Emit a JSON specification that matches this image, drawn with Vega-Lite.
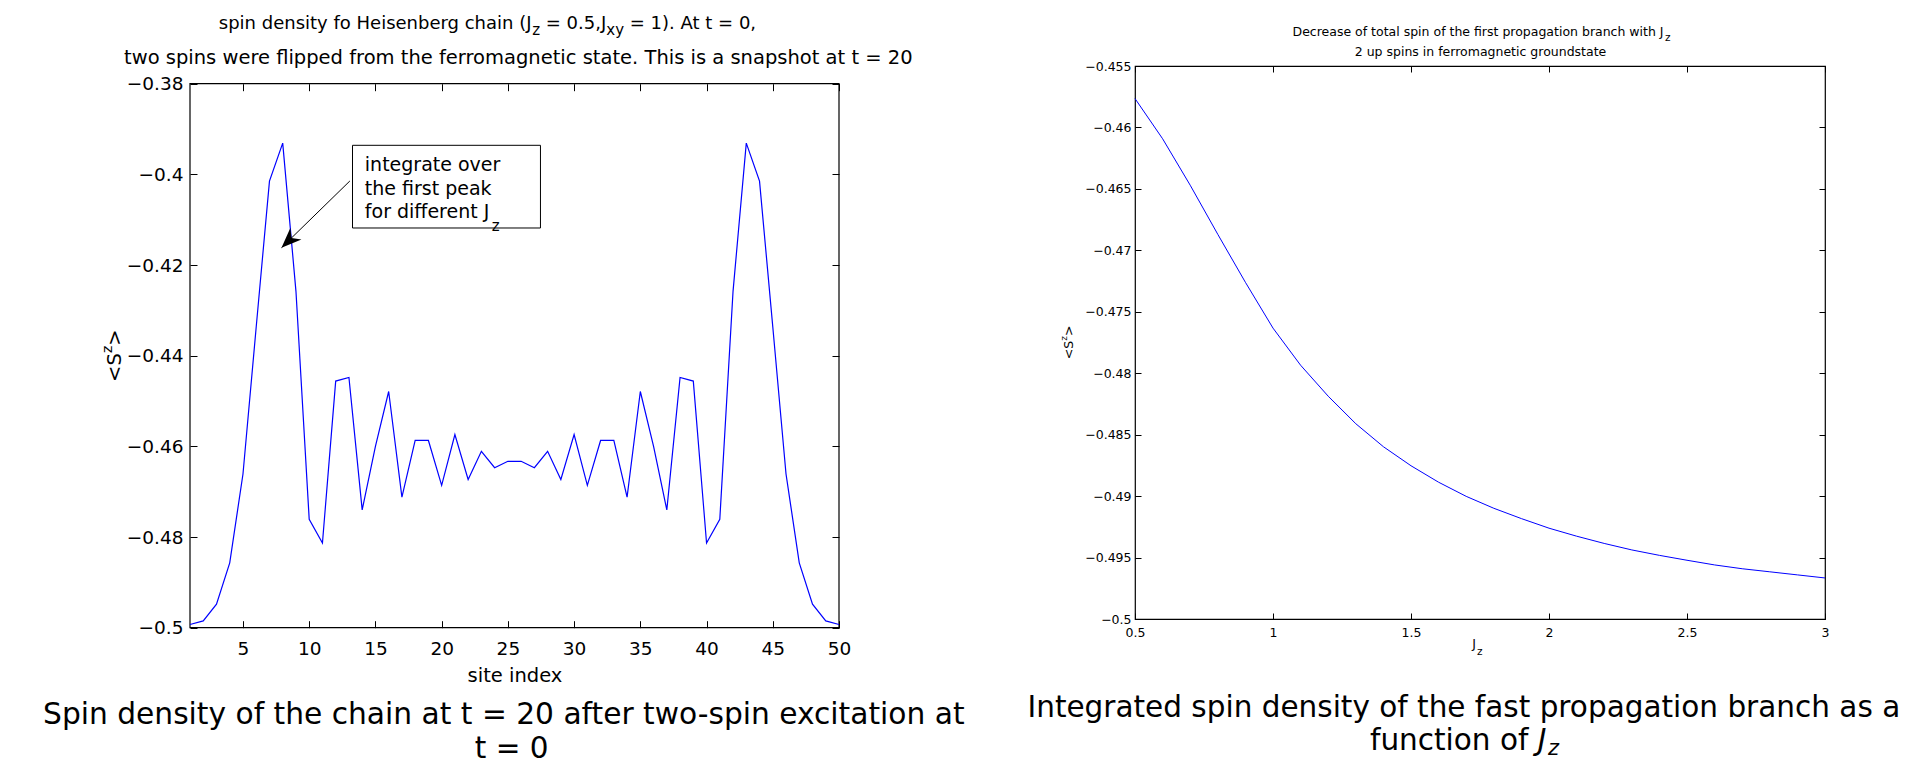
{
  "$schema": "https://vega.github.io/schema/vega-lite/v6.json",
  "padding": 0,
  "background": "white",
  "datasets": {
    "chain": [
      {"site": 1, "sz": -0.4993}, {"site": 2, "sz": -0.4985}, {"site": 3, "sz": -0.4948}, {"site": 4, "sz": -0.4857},
      {"site": 5, "sz": -0.4661}, {"site": 6, "sz": -0.4336}, {"site": 7, "sz": -0.4015}, {"site": 8, "sz": -0.3931},
      {"site": 9, "sz": -0.4258}, {"site": 10, "sz": -0.4761}, {"site": 11, "sz": -0.4813}, {"site": 12, "sz": -0.4456},
      {"site": 13, "sz": -0.4448}, {"site": 14, "sz": -0.474}, {"site": 15, "sz": -0.46}, {"site": 16, "sz": -0.4479},
      {"site": 17, "sz": -0.4712}, {"site": 18, "sz": -0.4587}, {"site": 19, "sz": -0.4587}, {"site": 20, "sz": -0.4686},
      {"site": 21, "sz": -0.4574}, {"site": 22, "sz": -0.4673}, {"site": 23, "sz": -0.4611}, {"site": 24, "sz": -0.4647},
      {"site": 25, "sz": -0.4633}, {"site": 26, "sz": -0.4633}, {"site": 27, "sz": -0.4647}, {"site": 28, "sz": -0.4611},
      {"site": 29, "sz": -0.4673}, {"site": 30, "sz": -0.4574}, {"site": 31, "sz": -0.4686}, {"site": 32, "sz": -0.4587},
      {"site": 33, "sz": -0.4587}, {"site": 34, "sz": -0.4712}, {"site": 35, "sz": -0.4479}, {"site": 36, "sz": -0.46},
      {"site": 37, "sz": -0.474}, {"site": 38, "sz": -0.4448}, {"site": 39, "sz": -0.4456}, {"site": 40, "sz": -0.4813},
      {"site": 41, "sz": -0.4761}, {"site": 42, "sz": -0.4258}, {"site": 43, "sz": -0.3931}, {"site": 44, "sz": -0.4015},
      {"site": 45, "sz": -0.4336}, {"site": 46, "sz": -0.4661}, {"site": 47, "sz": -0.4857}, {"site": 48, "sz": -0.4948},
      {"site": 49, "sz": -0.4985}, {"site": 50, "sz": -0.4993}
    ],
    "jz": [
      {"J": 0.5, "S": -0.45765}, {"J": 0.6, "S": -0.46092}, {"J": 0.7, "S": -0.4647}, {"J": 0.8, "S": -0.4687},
      {"J": 0.9, "S": -0.4726}, {"J": 1.0, "S": -0.47633}, {"J": 1.1, "S": -0.47935}, {"J": 1.2, "S": -0.48187},
      {"J": 1.3, "S": -0.48411}, {"J": 1.4, "S": -0.48598}, {"J": 1.5, "S": -0.48753}, {"J": 1.6, "S": -0.48887},
      {"J": 1.7, "S": -0.49002}, {"J": 1.8, "S": -0.49099}, {"J": 1.9, "S": -0.49183}, {"J": 2.0, "S": -0.49261},
      {"J": 2.1, "S": -0.49326}, {"J": 2.2, "S": -0.49385}, {"J": 2.3, "S": -0.49438}, {"J": 2.4, "S": -0.49482},
      {"J": 2.5, "S": -0.49522}, {"J": 2.6, "S": -0.4956}, {"J": 2.7, "S": -0.49591}, {"J": 2.8, "S": -0.49616},
      {"J": 2.9, "S": -0.49641}, {"J": 3.0, "S": -0.49666}
    ]
  },
  "bounds": "full",
  "align": "none",
  "columns": 2,
  "spacing": 9,
  "concat": [
    {
      "width": 649,
      "height": 561.7,
      "view": {"stroke": null},
      "layer": [
        {
          "data": {"values": [{}]},
          "mark": {"type": "rect", "filled": false, "color": "black", "stroke": "black", "strokeWidth": 1.2},
          "encoding": {
            "x": {"datum": 1, "type": "quantitative", "scale": {"domain": [1, 50], "nice": false, "zero": false}, "axis": null},
            "x2": {"datum": 50},
            "y": {"datum": -0.5, "type": "quantitative", "scale": {"domain": [-0.5, -0.376096], "nice": false, "zero": false}, "axis": null},
            "y2": {"datum": -0.38}
          }
        },
        {
          "data": {"name": "chain"},
          "mark": {"type": "line", "color": "#0000ff", "strokeWidth": 1.2},
          "encoding": {
            "x": {"field": "site", "type": "quantitative", "scale": {"domain": [1, 50], "nice": false, "zero": false},
              "axis": {"orient": "bottom", "values": [5, 10, 15, 20, 25, 30, 35, 40, 45, 50], "format": "d", "tickSize": -7, "labelPadding": 19, "labelFontSize": 18.5, "title": "site index", "titleFontSize": 19.5, "titlePadding": 8}},
            "y": {"field": "sz", "type": "quantitative", "scale": {"domain": [-0.5, -0.376096], "nice": false, "zero": false},
              "axis": {"orient": "left", "values": [-0.5, -0.48, -0.46, -0.44, -0.42, -0.4, -0.38], "format": ".2~f", "tickSize": -7, "labelPadding": 14, "labelFontSize": 18.5, "title": null}}
          }
        },
        {
          "data": {"name": "chain"},
          "mark": {"type": "line", "strokeOpacity": 0},
          "encoding": {
            "x": {"field": "site", "type": "quantitative", "scale": {"domain": [1, 50], "nice": false, "zero": false},
              "axis": {"orient": "top", "offset": -17.7, "values": [5, 10, 15, 20, 25, 30, 35, 40, 45, 50], "labels": false, "tickSize": -7, "title": null}},
            "y": {"field": "sz", "type": "quantitative", "scale": {"domain": [-0.5, -0.376096], "nice": false, "zero": false},
              "axis": {"orient": "right", "values": [-0.5, -0.48, -0.46, -0.44, -0.42, -0.4, -0.38], "labels": false, "tickSize": -7, "title": null}}
          }
        },
        {
          "data": {"values": [{}]},
          "mark": {"type": "text", "text": "<S", "angle": 270, "align": "left", "baseline": "middle", "fontSize": 19.5, "dx": -26.2},
          "encoding": {
            "x": {"datum": -4.64, "type": "quantitative", "scale": {"domain": [1, 50], "nice": false, "zero": false}, "axis": null},
            "y": {"datum": -0.44, "type": "quantitative", "scale": {"domain": [-0.5, -0.376096], "nice": false, "zero": false}, "axis": null}
          }
        },
        {
          "data": {"values": [{}]},
          "mark": {"type": "text", "text": "z", "angle": 270, "align": "left", "baseline": "middle", "fontSize": 14, "dx": 2.6, "dy": -7},
          "encoding": {
            "x": {"datum": -4.64, "type": "quantitative", "scale": {"domain": [1, 50], "nice": false, "zero": false}, "axis": null},
            "y": {"datum": -0.44, "type": "quantitative", "scale": {"domain": [-0.5, -0.376096], "nice": false, "zero": false}, "axis": null}
          }
        },
        {
          "data": {"values": [{}]},
          "mark": {"type": "text", "text": ">", "angle": 270, "align": "left", "baseline": "middle", "fontSize": 19.5, "dx": 10.0},
          "encoding": {
            "x": {"datum": -4.64, "type": "quantitative", "scale": {"domain": [1, 50], "nice": false, "zero": false}, "axis": null},
            "y": {"datum": -0.44, "type": "quantitative", "scale": {"domain": [-0.5, -0.376096], "nice": false, "zero": false}, "axis": null}
          }
        },
        {
          "data": {"values": [{}]},
          "mark": {"type": "rect", "fill": "white", "stroke": "black", "strokeWidth": 1},
          "encoding": {
            "x": {"datum": 13.27, "type": "quantitative", "scale": {"domain": [1, 50], "nice": false, "zero": false}, "axis": null},
            "x2": {"datum": 27.46},
            "y": {"datum": -0.39359, "type": "quantitative", "scale": {"domain": [-0.5, -0.376096], "nice": false, "zero": false}, "axis": null},
            "y2": {"datum": -0.41183}
          }
        },
        {
          "data": {"values": [{}]},
          "mark": {"type": "text", "text": ["integrate over", "the first peak", "for different J"], "align": "left", "baseline": "alphabetic", "fontSize": 19, "lineHeight": 23.7},
          "encoding": {
            "x": {"datum": 14.2, "type": "quantitative", "scale": {"domain": [1, 50], "nice": false, "zero": false}, "axis": null},
            "y": {"datum": -0.399257, "type": "quantitative", "scale": {"domain": [-0.5, -0.376096], "nice": false, "zero": false}, "axis": null}
          }
        },
        {
          "data": {"values": [{}]},
          "mark": {"type": "text", "text": "z", "align": "left", "baseline": "alphabetic", "fontSize": 15},
          "encoding": {
            "x": {"datum": 23.786, "type": "quantitative", "scale": {"domain": [1, 50], "nice": false, "zero": false}, "axis": null},
            "y": {"datum": -0.412493, "type": "quantitative", "scale": {"domain": [-0.5, -0.376096], "nice": false, "zero": false}, "axis": null}
          }
        },
        {
          "data": {"values": [{}]},
          "mark": {"type": "rule", "color": "black", "strokeWidth": 1},
          "encoding": {
            "x": {"datum": 13.07, "type": "quantitative", "scale": {"domain": [1, 50], "nice": false, "zero": false}, "axis": null},
            "x2": {"datum": 7.908},
            "y": {"datum": -0.40146, "type": "quantitative", "scale": {"domain": [-0.5, -0.376096], "nice": false, "zero": false}, "axis": null},
            "y2": {"datum": -0.41618}
          }
        },
        {
          "data": {"values": [{}]},
          "mark": {"type": "point", "shape": "M0,0L0.4,1L0,0.7L-0.4,1Z", "filled": true, "color": "black", "opacity": 1, "strokeWidth": 0, "size": 1600, "angle": 226},
          "encoding": {
            "x": {"datum": 7.908, "type": "quantitative", "scale": {"domain": [1, 50], "nice": false, "zero": false}, "axis": null},
            "y": {"datum": -0.41618, "type": "quantitative", "scale": {"domain": [-0.5, -0.376096], "nice": false, "zero": false}, "axis": null}
          }
        },
        {
          "data": {"values": [{}]},
          "mark": {"type": "text", "text": "spin density fo Heisenberg chain (J", "align": "left", "baseline": "alphabetic", "fontSize": 18},
          "encoding": {
            "x": {"datum": 3.1744, "type": "quantitative", "scale": {"domain": [1, 50], "nice": false, "zero": false}, "axis": null},
            "y": {"datum": -0.368044, "type": "quantitative", "scale": {"domain": [-0.5, -0.376096], "nice": false, "zero": false}, "axis": null}
          }
        },
        {
          "data": {"values": [{}]},
          "mark": {"type": "text", "text": "z", "align": "left", "baseline": "alphabetic", "fontSize": 15, "dx": 313.4, "dy": 5.5},
          "encoding": {
            "x": {"datum": 3.1744, "type": "quantitative", "scale": {"domain": [1, 50], "nice": false, "zero": false}, "axis": null},
            "y": {"datum": -0.368044, "type": "quantitative", "scale": {"domain": [-0.5, -0.376096], "nice": false, "zero": false}, "axis": null}
          }
        },
        {
          "data": {"values": [{}]},
          "mark": {"type": "text", "text": "= 0.5,J", "align": "left", "baseline": "alphabetic", "fontSize": 18, "dx": 327.0},
          "encoding": {
            "x": {"datum": 3.1744, "type": "quantitative", "scale": {"domain": [1, 50], "nice": false, "zero": false}, "axis": null},
            "y": {"datum": -0.368044, "type": "quantitative", "scale": {"domain": [-0.5, -0.376096], "nice": false, "zero": false}, "axis": null}
          }
        },
        {
          "data": {"values": [{}]},
          "mark": {"type": "text", "text": "xy", "align": "left", "baseline": "alphabetic", "fontSize": 15, "dx": 387.5, "dy": 5.5},
          "encoding": {
            "x": {"datum": 3.1744, "type": "quantitative", "scale": {"domain": [1, 50], "nice": false, "zero": false}, "axis": null},
            "y": {"datum": -0.368044, "type": "quantitative", "scale": {"domain": [-0.5, -0.376096], "nice": false, "zero": false}, "axis": null}
          }
        },
        {
          "data": {"values": [{}]},
          "mark": {"type": "text", "text": "= 1). At t = 0,", "align": "left", "baseline": "alphabetic", "fontSize": 18, "dx": 411.0},
          "encoding": {
            "x": {"datum": 3.1744, "type": "quantitative", "scale": {"domain": [1, 50], "nice": false, "zero": false}, "axis": null},
            "y": {"datum": -0.368044, "type": "quantitative", "scale": {"domain": [-0.5, -0.376096], "nice": false, "zero": false}, "axis": null}
          }
        },
        {
          "data": {"values": [{}]},
          "mark": {"type": "text", "text": "two spins were flipped from the ferromagnetic state. This is a snapshot at t = 20", "align": "center", "baseline": "alphabetic", "fontSize": 19.5},
          "encoding": {
            "x": {"datum": 25.787, "type": "quantitative", "scale": {"domain": [1, 50], "nice": false, "zero": false}, "axis": null},
            "y": {"datum": -0.375654, "type": "quantitative", "scale": {"domain": [-0.5, -0.376096], "nice": false, "zero": false}, "axis": null}
          }
        },
        {
          "data": {"values": [{}]},
          "mark": {"type": "text", "text": "Spin density of the chain at t = 20 after two-spin excitation at", "align": "center", "baseline": "alphabetic", "fontSize": 29.7},
          "encoding": {
            "x": {"datum": 24.692, "type": "quantitative", "scale": {"domain": [1, 50], "nice": false, "zero": false}, "axis": null},
            "y": {"datum": -0.521243, "type": "quantitative", "scale": {"domain": [-0.5, -0.376096], "nice": false, "zero": false}, "axis": null}
          }
        },
        {
          "data": {"values": [{}]},
          "mark": {"type": "text", "text": "t = 0", "align": "center", "baseline": "alphabetic", "fontSize": 29.5},
          "encoding": {
            "x": {"datum": 25.29, "type": "quantitative", "scale": {"domain": [1, 50], "nice": false, "zero": false}, "axis": null},
            "y": {"datum": -0.528743, "type": "quantitative", "scale": {"domain": [-0.5, -0.376096], "nice": false, "zero": false}, "axis": null}
          }
        },
        {
          "data": {"values": [{}]},
          "mark": {"type": "point", "filled": true, "opacity": 0, "strokeWidth": 0, "size": 1},
          "encoding": {
            "x": {"datum": -13.2846, "type": "quantitative", "scale": {"domain": [1, 50], "nice": false, "zero": false}, "axis": null},
            "y": {"datum": -0.361978, "type": "quantitative", "scale": {"domain": [-0.5, -0.376096], "nice": false, "zero": false}, "axis": null}
          }
        },
        {
          "data": {"values": [{}]},
          "mark": {"type": "point", "filled": true, "opacity": 0, "strokeWidth": 0, "size": 1},
          "encoding": {
            "x": {"datum": 62.14, "type": "quantitative", "scale": {"domain": [1, 50], "nice": false, "zero": false}, "axis": null},
            "y": {"datum": -0.361978, "type": "quantitative", "scale": {"domain": [-0.5, -0.376096], "nice": false, "zero": false}, "axis": null}
          }
        }
      ],
      "resolve": {"axis": {"x": "independent", "y": "independent"}}
    },
    {
      "width": 690,
      "height": 553,
      "layer": [
        {
          "data": {"name": "jz"},
          "mark": {"type": "line", "color": "#0000ff", "strokeWidth": 1},
          "encoding": {
            "x": {"field": "J", "type": "quantitative", "scale": {"domain": [0.5, 3], "nice": false, "zero": false},
              "axis": {"orient": "bottom", "values": [0.5, 1, 1.5, 2, 2.5, 3], "format": "~g", "tickSize": -6, "labelPadding": 13, "labelFontSize": 12.5, "title": null}},
            "y": {"field": "S", "type": "quantitative", "scale": {"domain": [-0.5, -0.455], "nice": false, "zero": false},
              "axis": {"orient": "left", "values": [-0.5, -0.495, -0.49, -0.485, -0.48, -0.475, -0.47, -0.465, -0.46, -0.455], "format": ".3~f", "tickSize": -6, "labelPadding": 10, "labelFontSize": 12.5, "title": null}}
          }
        },
        {
          "data": {"name": "jz"},
          "mark": {"type": "line", "strokeOpacity": 0},
          "encoding": {
            "x": {"field": "J", "type": "quantitative", "scale": {"domain": [0.5, 3], "nice": false, "zero": false},
              "axis": {"orient": "top", "values": [0.5, 1, 1.5, 2, 2.5, 3], "labels": false, "tickSize": -6, "title": null}},
            "y": {"field": "S", "type": "quantitative", "scale": {"domain": [-0.5, -0.455], "nice": false, "zero": false},
              "axis": {"orient": "right", "values": [-0.5, -0.495, -0.49, -0.485, -0.48, -0.475, -0.47, -0.465, -0.46, -0.455], "labels": false, "tickSize": -6, "title": null}}
          }
        },
        {
          "data": {"values": [{}]},
          "mark": {"type": "text", "text": "<S", "angle": 270, "align": "left", "baseline": "middle", "fontSize": 12.5, "dx": -16.8},
          "encoding": {
            "x": {"datum": 0.25906, "type": "quantitative", "scale": {"domain": [0.5, 3], "nice": false, "zero": false}, "axis": null},
            "y": {"datum": -0.4775, "type": "quantitative", "scale": {"domain": [-0.5, -0.455], "nice": false, "zero": false}, "axis": null}
          }
        },
        {
          "data": {"values": [{}]},
          "mark": {"type": "text", "text": "z", "angle": 270, "align": "left", "baseline": "middle", "fontSize": 9, "dx": 1.7, "dy": -4.5},
          "encoding": {
            "x": {"datum": 0.25906, "type": "quantitative", "scale": {"domain": [0.5, 3], "nice": false, "zero": false}, "axis": null},
            "y": {"datum": -0.4775, "type": "quantitative", "scale": {"domain": [-0.5, -0.455], "nice": false, "zero": false}, "axis": null}
          }
        },
        {
          "data": {"values": [{}]},
          "mark": {"type": "text", "text": ">", "angle": 270, "align": "left", "baseline": "middle", "fontSize": 12.5, "dx": 6.4},
          "encoding": {
            "x": {"datum": 0.25906, "type": "quantitative", "scale": {"domain": [0.5, 3], "nice": false, "zero": false}, "axis": null},
            "y": {"datum": -0.4775, "type": "quantitative", "scale": {"domain": [-0.5, -0.455], "nice": false, "zero": false}, "axis": null}
          }
        },
        {
          "data": {"values": [{}]},
          "mark": {"type": "text", "text": "Decrease of total spin of the first propagation branch with J", "align": "left", "baseline": "alphabetic", "fontSize": 12.5},
          "encoding": {
            "x": {"datum": 1.0707, "type": "quantitative", "scale": {"domain": [0.5, 3], "nice": false, "zero": false}, "axis": null},
            "y": {"datum": -0.45252, "type": "quantitative", "scale": {"domain": [-0.5, -0.455], "nice": false, "zero": false}, "axis": null}
          }
        },
        {
          "data": {"values": [{}]},
          "mark": {"type": "text", "text": "z", "align": "left", "baseline": "alphabetic", "fontSize": 10.5, "dx": 372.5, "dy": 5},
          "encoding": {
            "x": {"datum": 1.0707, "type": "quantitative", "scale": {"domain": [0.5, 3], "nice": false, "zero": false}, "axis": null},
            "y": {"datum": -0.45252, "type": "quantitative", "scale": {"domain": [-0.5, -0.455], "nice": false, "zero": false}, "axis": null}
          }
        },
        {
          "data": {"values": [{}]},
          "mark": {"type": "text", "text": "2 up spins in ferromagnetic groundstate", "align": "center", "baseline": "alphabetic", "fontSize": 12.5},
          "encoding": {
            "x": {"datum": 1.7518, "type": "quantitative", "scale": {"domain": [0.5, 3], "nice": false, "zero": false}, "axis": null},
            "y": {"datum": -0.45418, "type": "quantitative", "scale": {"domain": [-0.5, -0.455], "nice": false, "zero": false}, "axis": null}
          }
        },
        {
          "data": {"values": [{}]},
          "mark": {"type": "text", "text": "J", "align": "center", "baseline": "alphabetic", "fontSize": 12.5},
          "encoding": {
            "x": {"datum": 1.72826, "type": "quantitative", "scale": {"domain": [0.5, 3], "nice": false, "zero": false}, "axis": null},
            "y": {"datum": -0.5024, "type": "quantitative", "scale": {"domain": [-0.5, -0.455], "nice": false, "zero": false}, "axis": null}
          }
        },
        {
          "data": {"values": [{}]},
          "mark": {"type": "text", "text": "z", "align": "left", "baseline": "alphabetic", "fontSize": 10.5},
          "encoding": {
            "x": {"datum": 1.73913, "type": "quantitative", "scale": {"domain": [0.5, 3], "nice": false, "zero": false}, "axis": null},
            "y": {"datum": -0.50297, "type": "quantitative", "scale": {"domain": [-0.5, -0.455], "nice": false, "zero": false}, "axis": null}
          }
        },
        {
          "data": {"values": [{}]},
          "mark": {"type": "text", "text": "Integrated spin density of the fast propagation branch as a", "align": "left", "baseline": "alphabetic", "fontSize": 29.5},
          "encoding": {
            "x": {"datum": 0.11051, "type": "quantitative", "scale": {"domain": [0.5, 3], "nice": false, "zero": false}, "axis": null},
            "y": {"datum": -0.508015, "type": "quantitative", "scale": {"domain": [-0.5, -0.455], "nice": false, "zero": false}, "axis": null}
          }
        },
        {
          "data": {"values": [{}]},
          "mark": {"type": "text", "text": "function of", "align": "left", "baseline": "alphabetic", "fontSize": 29.5},
          "encoding": {
            "x": {"datum": 1.35145, "type": "quantitative", "scale": {"domain": [0.5, 3], "nice": false, "zero": false}, "axis": null},
            "y": {"datum": -0.51066, "type": "quantitative", "scale": {"domain": [-0.5, -0.455], "nice": false, "zero": false}, "axis": null}
          }
        },
        {
          "data": {"values": [{}]},
          "mark": {"type": "text", "text": "J", "align": "left", "baseline": "alphabetic", "fontSize": 29.5, "fontStyle": "italic", "dx": 167.7},
          "encoding": {
            "x": {"datum": 1.35145, "type": "quantitative", "scale": {"domain": [0.5, 3], "nice": false, "zero": false}, "axis": null},
            "y": {"datum": -0.51066, "type": "quantitative", "scale": {"domain": [-0.5, -0.455], "nice": false, "zero": false}, "axis": null}
          }
        },
        {
          "data": {"values": [{}]},
          "mark": {"type": "text", "text": "z", "align": "left", "baseline": "alphabetic", "fontSize": 21, "fontStyle": "italic", "dx": 177.9, "dy": 5},
          "encoding": {
            "x": {"datum": 1.35145, "type": "quantitative", "scale": {"domain": [0.5, 3], "nice": false, "zero": false}, "axis": null},
            "y": {"datum": -0.51066, "type": "quantitative", "scale": {"domain": [-0.5, -0.455], "nice": false, "zero": false}, "axis": null}
          }
        },
        {
          "data": {"values": [{}]},
          "mark": {"type": "point", "filled": true, "opacity": 0, "strokeWidth": 0, "size": 1},
          "encoding": {
            "x": {"datum": 0.05254, "type": "quantitative", "scale": {"domain": [0.5, 3], "nice": false, "zero": false}, "axis": null},
            "y": {"datum": -0.449792, "type": "quantitative", "scale": {"domain": [-0.5, -0.455], "nice": false, "zero": false}, "axis": null}
          }
        }
      ],
      "resolve": {"axis": {"x": "independent", "y": "independent"}}
    }
  ],
  "config": {
    "view": {"stroke": "#000000", "strokeWidth": 1.2},
    "axis": {"domain": false, "grid": false, "tickColor": "#000000", "tickWidth": 1, "labelColor": "#000000", "labelFont": "DejaVu Sans", "titleFont": "DejaVu Sans", "titleFontWeight": "normal", "titleColor": "#000000", "labelFlush": false, "labelOverlap": false},
    "text": {"font": "DejaVu Sans", "color": "#000000"}
  }
}
